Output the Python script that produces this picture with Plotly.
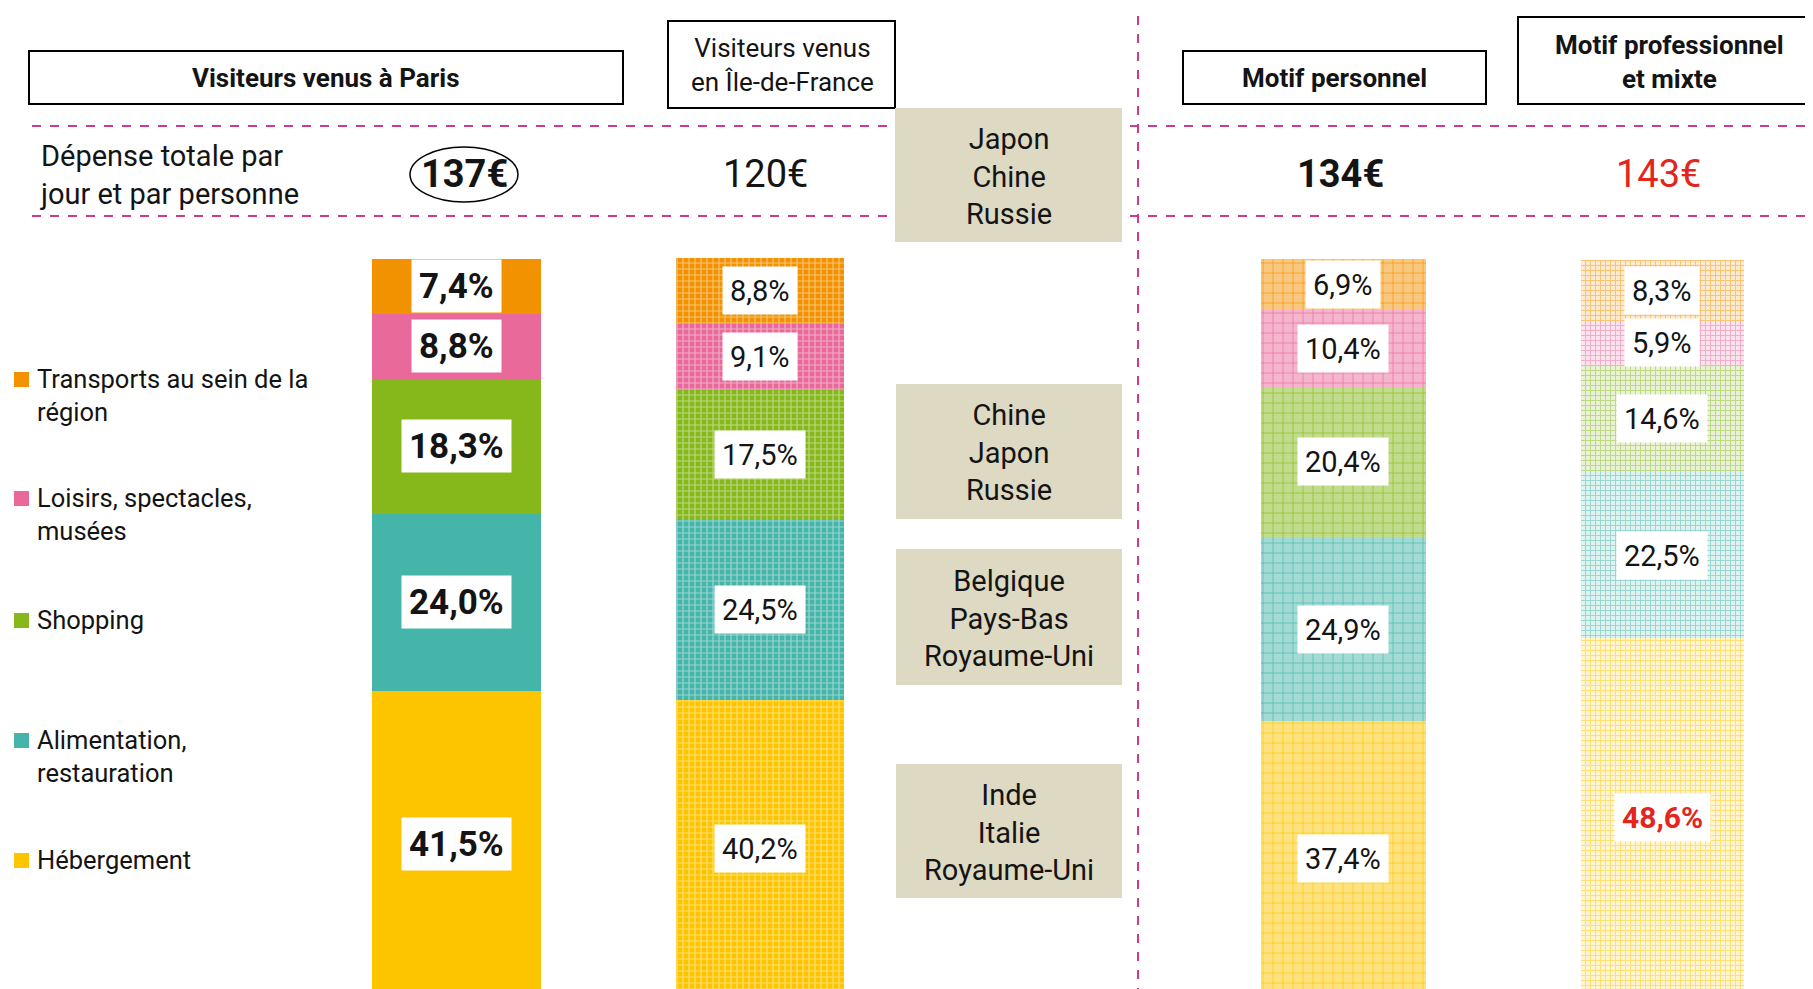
import plotly.graph_objects as go

W, H = 1813, 989
OFF = 8  # page body margin of the html page

# ---------------- data ----------------
groups = ["Visiteurs venus à Paris", "Visiteurs venus en Île-de-France",
          "Motif personnel", "Motif professionnel et mixte"]
header_text = ["<b>Visiteurs venus à Paris</b>", "Visiteurs venus<br>en Île-de-France",
               "<b>Motif personnel</b>", "<b>Motif professionnel<br>et mixte</b>"]
categories = ["Hébergement", "Alimentation, restauration", "Shopping",
              "Loisirs, spectacles, musées", "Transports au sein de la région"]
legend_labels = ["Hébergement", "Alimentation,<br>restauration", "Shopping",
                 "Loisirs, spectacles,<br>musées", "Transports au sein de la<br>région"]
hebergement = [41.5, 40.2, 37.4, 48.6]
alimentation = [24.0, 24.5, 24.9, 22.5]
shopping = [18.3, 17.5, 20.4, 14.6]
loisirs = [8.8, 9.1, 10.4, 5.9]
transports = [7.4, 8.8, 6.9, 8.3]
depense = [137, 120, 134, 143]
depense_label = "Dépense totale par<br>jour et par personne"
pays = ["Japon<br>Chine<br>Russie", "Chine<br>Japon<br>Russie",
        "Belgique<br>Pays-Bas<br>Royaume-Uni", "Inde<br>Italie<br>Royaume-Uni"]

series = [hebergement, alimentation, shopping, loisirs, transports]

# ---------------- layout / style ----------------
FONT = "Roboto, 'Open Sans', sans-serif"
TXT = "#141414"
RED = "#E3251B"
MAG = "#CF3A8B"
BEIGE = "#DDD9C3"
colors = ["#FDC500", "#45B5AA", "#86B81B", "#E8699A", "#F39200"]
BAR_X = [456, 760, 1343, 1662]
BAR_W = [169, 168, 165, 163]
TOP_PX = 259  # pixel row reached by 100 %
Y_MAX = 100 * H / (H - (TOP_PX - OFF))


def mix(hexc, f):
    """mix colour with white, f = share of white"""
    r, g, b = int(hexc[1:3], 16), int(hexc[3:5], 16), int(hexc[5:7], 16)
    r, g, b = [int(round(c + (255 - c) * f)) for c in (r, g, b)]
    return f"rgb({r},{g},{b})"


def py(p):
    return 1 - (p - OFF) / H


fig = go.Figure()

for i, (cat, vals) in enumerate(zip(categories, series)):
    c = colors[i]
    fig.add_trace(go.Bar(
        x=BAR_X, y=vals, width=BAR_W, name=cat, showlegend=False,
        marker=dict(
            color=c, line=dict(width=0),
            pattern=dict(
                shape=["", "+", "+", "+"],
                bgcolor=[c, c, mix(c, 0.5), mix(c, 0.82)],
                fgcolor=[c, mix(c, 0.45), c, mix(c, 0.45)],
                size=[6, 6, 10, 5],
                solidity=[0.3, 0.35, 0.12, 0.35],
                fillmode="replace",
            ),
        ),
        hoverinfo="skip",
    ))

annotations = []
shapes = []

# value labels in white boxes
for g in range(4):
    base = 0.0
    for i, vals in enumerate(series):
        v = vals[g]
        mid = base + v / 2
        base += v
        txt = f"{v:.1f}".replace(".", ",") + "%"
        if g == 0:
            font = dict(size=35, color=TXT, family=FONT)
            txt = f"<b>{txt}</b>"
            pad, hh = 7, 38
        else:
            font = dict(size=29, color=TXT, family=FONT)
            pad, hh = 7, 33
            if g == 3 and i == 0:
                font = dict(size=30, color=RED, family=FONT)
                txt = f"<b>{txt}</b>"
        annotations.append(dict(x=BAR_X[g], y=mid, xref="x", yref="y", text=txt,
                                xanchor="center", yanchor="middle", height=hh,
                                showarrow=False, font=font, bgcolor="white", borderpad=pad))

# dashed horizontal lines and vertical separator
for yy in (126, 216):
    shapes.append(dict(type="line", xref="x", yref="paper", x0=32, x1=W + 20, y0=py(yy), y1=py(yy),
                       line=dict(color=MAG, width=2, dash="dash")))
shapes.append(dict(type="line", xref="x", yref="paper", x0=1138, x1=1138, y0=0, y1=1.02,
                   line=dict(color=MAG, width=2, dash="dash")))

# header boxes
hdr_boxes = [(29, 51, 623, 104), (668, 21, 895, 108), (1183, 51, 1486, 104), (1518, 17, 1840, 104)]
hdr_cx = [326, 782, 1334, 1669]
hdr_size = [26, 26, 26, 26]
for (x0, y0, x1, y1), t, cx, fs in zip(hdr_boxes, header_text, hdr_cx, hdr_size):
    shapes.append(dict(type="rect", xref="x", yref="paper", x0=x0, x1=x1, y0=py(y0), y1=py(y1),
                       line=dict(color="black", width=2), fillcolor="white"))
    annotations.append(dict(x=cx, y=py((y0 + y1) / 2 + 1), xref="x", yref="paper", text=t,
                            xanchor="center", yanchor="middle",
                            showarrow=False, font=dict(size=fs, color=TXT, family=FONT)))

# beige country boxes
beige_boxes = [(895, 108, 1122, 242), (896, 384, 1122, 519), (896, 549, 1122, 685), (896, 764, 1122, 898)]
for (x0, y0, x1, y1), t in zip(beige_boxes, pays):
    shapes.append(dict(type="rect", xref="x", yref="paper", x0=x0, x1=x1, y0=py(y0), y1=py(y1),
                       line=dict(width=0), fillcolor=BEIGE, layer="above"))
    annotations.append(dict(x=(x0 + x1) / 2, y=py((y0 + y1) / 2 + 1), xref="x", yref="paper", text=t,
                            xanchor="center", yanchor="middle",
                            showarrow=False, font=dict(size=29, color=TXT, family=FONT)))

# expense row
annotations.append(dict(x=38, y=py(175), xref="x", yref="paper", text=depense_label, xanchor="left",
                        yanchor="middle", align="left", showarrow=False,
                        font=dict(size=29, color=TXT, family=FONT)))
dep_styles = [("<b>{}€</b>", TXT), ("{}€", TXT), ("<b>{}€</b>", TXT), ("{}€", RED)]
dep_x = [464, 765, 1340, 1658]
for g in range(4):
    fmt, col = dep_styles[g]
    annotations.append(dict(x=dep_x[g], y=py(174), xref="x", yref="paper",
                            xanchor="center", yanchor="middle",
                            text=fmt.format(depense[g]), showarrow=False,
                            font=dict(size=38, color=col, family=FONT)))
shapes.append(dict(type="circle", xref="x", yref="paper", x0=410, x1=518, y0=py(147), y1=py(202),
                   line=dict(color="black", width=1.5)))

# legend (manual)
leg_first = [860, 740, 620, 498, 379]
for i in range(5):
    yy = leg_first[i]
    shapes.append(dict(type="rect", xref="x", yref="paper", x0=14, x1=29, y0=py(yy - 7), y1=py(yy + 8),
                       line=dict(width=0), fillcolor=colors[i]))
    annotations.append(dict(x=35, y=py(yy - 17), xref="x", yref="paper", text=legend_labels[i],
                            xanchor="left", yanchor="top", align="left", showarrow=False,
                            font=dict(size=25.5, color=TXT, family=FONT)))

fig.update_layout(
    width=W, height=H, margin=dict(l=0, r=0, t=0, b=0),
    paper_bgcolor="white", plot_bgcolor="white",
    barmode="stack", bargap=0,
    xaxis=dict(range=[OFF, W + OFF], visible=False, fixedrange=True),
    yaxis=dict(range=[0, Y_MAX], visible=False, fixedrange=True),
    shapes=shapes, annotations=annotations,
    font=dict(family=FONT, color=TXT),
)

fig.write_html("out.html")
